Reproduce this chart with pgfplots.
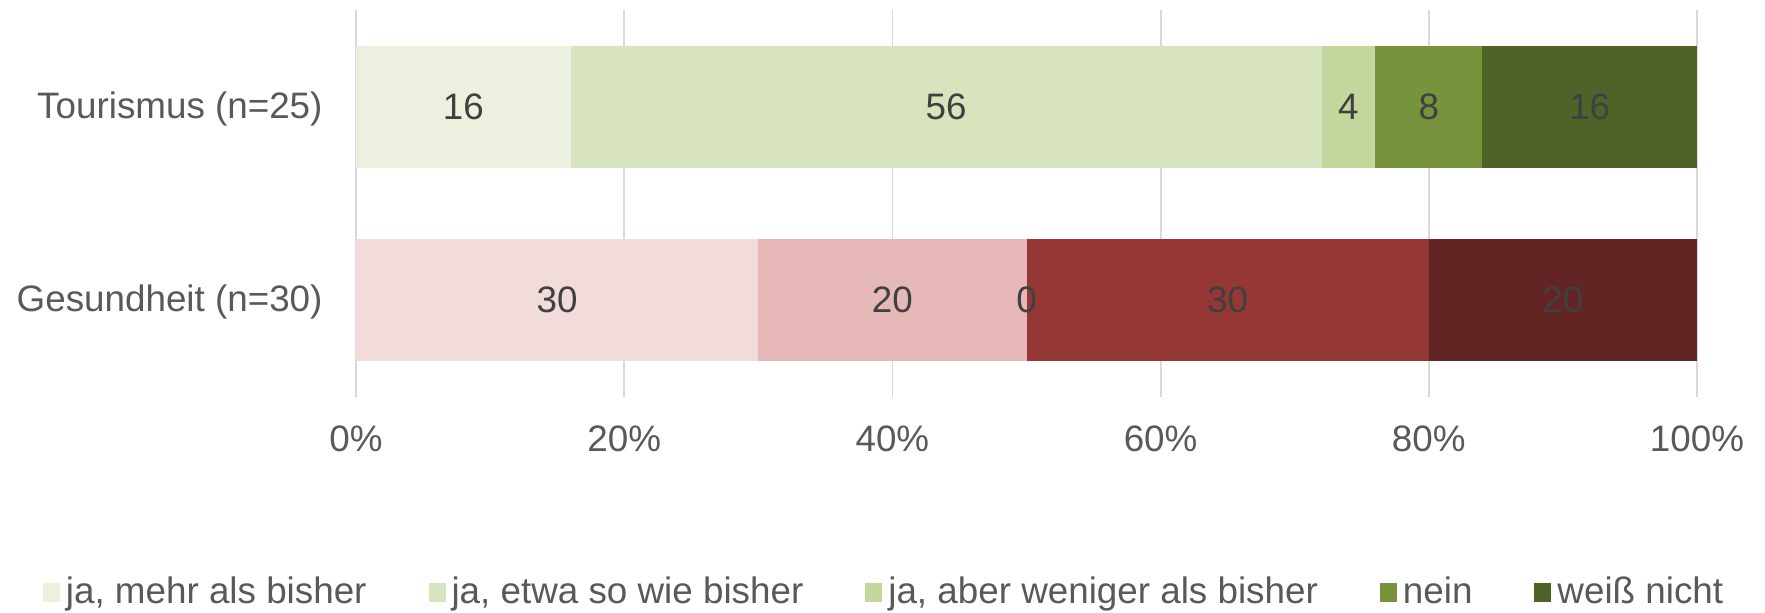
\documentclass[border=0pt]{standalone}
\usepackage{fontspec}
\setmainfont{Liberation Sans}
\usepackage{pgfplots}
\pgfplotsset{compat=1.18}
\definecolor{gA}{HTML}{EBF1DE}
\definecolor{gB}{HTML}{D7E4BD}
\definecolor{gC}{HTML}{C3D69B}
\definecolor{gD}{HTML}{77933C}
\definecolor{gE}{HTML}{4F6228}
\definecolor{rA}{HTML}{F2DCDB}
\definecolor{rB}{HTML}{E6B9B8}
\definecolor{rC}{HTML}{D99694}
\definecolor{rD}{HTML}{953735}
\definecolor{rE}{HTML}{632523}
\definecolor{txt}{HTML}{595959}
\definecolor{lbl}{HTML}{404040}
\definecolor{grd}{HTML}{D9D9D9}
\begin{document}
\fontsize{18.4}{22}\selectfont
\begin{tikzpicture}
\useasboundingbox (-178pt,-108pt) rectangle (704.5pt,198.5pt);
\pgfplotsset{
  common/.style={
    at={(0,0)}, anchor=south west,
    scale only axis, width=670.5pt, height=193.5pt,
    xmin=0, xmax=100, ymin=-0.5, ymax=1.5,
    enlargelimits=false,
  }
}
\begin{axis}[common,
  xbar stacked, bar width=61pt,
  axis line style={draw=none},
  tick style={draw=none},
  xmajorgrids, grid style={grd, line width=0.9pt},
  xtick={0,20,40,60,80,100},
  xticklabel={\pgfmathprintnumber{\tick}\%},
  /pgf/number format/assume math mode=true,
  ytick={0,1},
  yticklabels={Gesundheit (n=30),Tourismus (n=25)},
  tick label style={text=txt, font=\fontsize{18.4}{22}\selectfont},
  xticklabel style={yshift=-8.3pt},
  yticklabel style={xshift=-10.4pt, yshift=-1pt},
  legend columns=5,
  legend style={at={(0.3945,-0.505)}, anchor=center, draw=none, fill=none,
    font=\fontsize{18.4}{22}\selectfont, text=txt,
    /tikz/every even column/.append style={column sep=29pt},
    /tikz/every odd column/.append style={column sep=1pt}},
  legend image code/.code={\fill[#1] (0pt,-4.75pt) rectangle (8.5pt,4.75pt);},
]
\addplot[fill=gA, draw=none] coordinates {(16,1) (0,0)};
\addplot[fill=gB, draw=none] coordinates {(56,1) (0,0)};
\addplot[fill=gC, draw=none] coordinates {(4,1) (0,0)};
\addplot[fill=gD, draw=none] coordinates {(8,1) (0,0)};
\addplot[fill=gE, draw=none] coordinates {(16,1) (0,0)};
\addplot[fill=rA, draw=none] coordinates {(0,1) (30,0)};
\addplot[fill=rB, draw=none] coordinates {(0,1) (20,0)};
\addplot[fill=rC, draw=none] coordinates {(0,1) (0,0)};
\addplot[fill=rD, draw=none] coordinates {(0,1) (30,0)};
\addplot[fill=rE, draw=none] coordinates {(0,1) (20,0)};
\legend{{ja, mehr als bisher},{ja, etwa so wie bisher},{ja, aber weniger als bisher},nein,weiß nicht}
\end{axis}
\begin{axis}[common, hide axis]
\addplot[only marks, mark=none, draw=none,
  nodes near coords, point meta=explicit symbolic,
  nodes near coords style={anchor=center, text=lbl, font=\fontsize{18.4}{22}\selectfont}]
  coordinates {(8,1)[16] (44,1)[56] (74,1)[4] (80,1)[8] (92,1)[16]
               (15,0)[30] (40,0)[20] (50,0)[0] (65,0)[30] (90,0)[20]};
\end{axis}
\end{tikzpicture}
\end{document}
